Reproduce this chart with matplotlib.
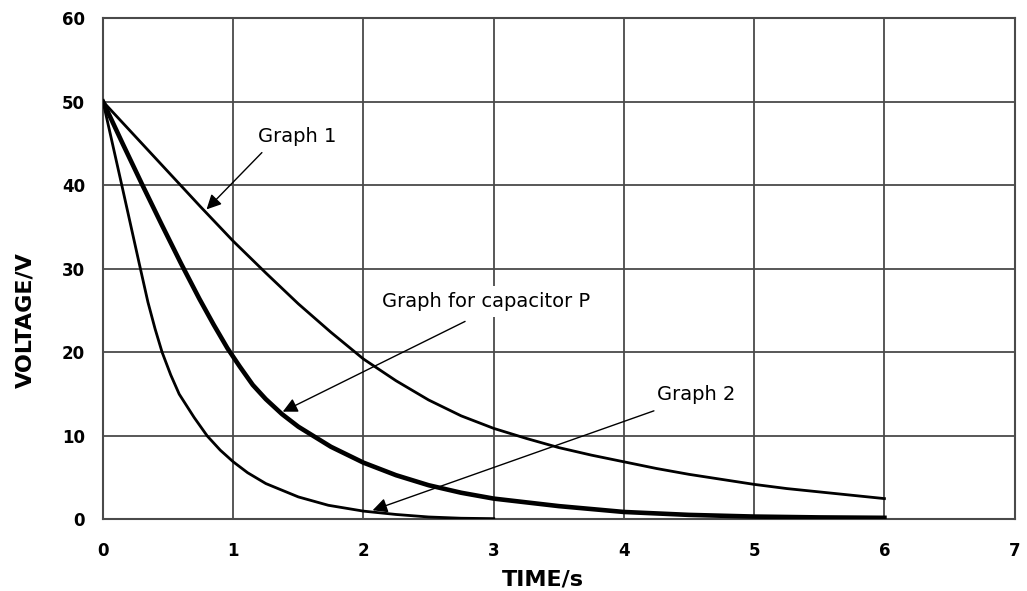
import matplotlib
matplotlib.use("Agg")
from matplotlib import pyplot as plt

# values
t_graph1 = [0, 0.25, 0.5, 0.75, 1.0, 1.25, 1.5, 1.75, 2.0, 2.25, 2.5, 2.75, 3.0,
            3.25, 3.5, 3.75, 4.0, 4.25, 4.5, 4.75, 5.0, 5.25, 5.5, 5.75, 6.0]
v_graph1 = [50, 45.8, 41.6, 37.4, 33.3, 29.5, 25.8, 22.4, 19.2, 16.6, 14.3, 12.4, 10.9,
            9.7, 8.6, 7.7, 6.9, 6.1, 5.4, 4.8, 4.2, 3.7, 3.3, 2.9, 2.5]

t_cap_p = [0, 0.15, 0.3, 0.45, 0.6, 0.74, 0.85, 0.955, 1.05, 1.15, 1.25, 1.375, 1.5,
           1.75, 2.0, 2.25, 2.5, 2.75, 3.0, 3.5, 4.0, 4.5, 5.0, 5.5, 6.0]
v_cap_p = [50, 45, 40.1, 35.3, 30.6, 26.4, 23.3, 20.5, 18.3, 16.1, 14.4, 12.6, 11.1,
           8.7, 6.8, 5.3, 4.1, 3.2, 2.5, 1.6, 0.9, 0.55, 0.35, 0.25, 0.2]

t_graph2 = [0, 0.15, 0.28, 0.345, 0.4, 0.454, 0.52, 0.585, 0.7, 0.8, 0.9, 1.0, 1.11,
            1.25, 1.5, 1.73, 2.0, 2.25, 2.5, 2.75, 3.0]
v_graph2 = [50, 39.6, 30.5, 26.0, 22.8, 20, 17.3, 15, 12.2, 10, 8.3, 6.9, 5.6,
            4.3, 2.7, 1.7, 1.0, 0.6, 0.3, 0.15, 0.1]

x_ticks = [0, 1, 2, 3, 4, 5, 6, 7]
y_ticks = [0, 10, 20, 30, 40, 50, 60]

grid_col = "#4a4a4a"

fig = plt.figure(figsize=(10.27, 5.91), dpi=100)
ax = fig.add_axes([0.1003, 0.121, 0.8877, 0.8485])

ax.plot(t_graph1, v_graph1, color="black", lw=2.0, solid_joinstyle="round", zorder=3)
ax.plot(t_cap_p, v_cap_p, color="black", lw=3.3, solid_joinstyle="round", zorder=3)
ax.plot(t_graph2, v_graph2, color="black", lw=2.0, solid_joinstyle="round", zorder=3)

ax.set_xlim(0, 7)
ax.set_ylim(0, 60)
ax.set_xticks(x_ticks)
ax.set_yticks(y_ticks)
ax.grid(True, color=grid_col, lw=1.3)
ax.set_axisbelow(True)
for s in ax.spines.values():
    s.set_color(grid_col)
    s.set_linewidth(1.5)
ax.tick_params(length=0, labelsize=12)
ax.tick_params(axis="x", pad=16)
ax.tick_params(axis="y", pad=13)
for lab in ax.get_xticklabels() + ax.get_yticklabels():
    lab.set_fontweight("bold")

ax.set_xlabel("TIME/s", fontsize=16, fontweight="bold")
ax.set_ylabel("VOLTAGE/V", fontsize=16, fontweight="bold")
ax.xaxis.set_label_coords(0.482, -0.1206)
ax.yaxis.set_label_coords(-0.0855, 0.398)
ax.xaxis.label.set_va("center")
ax.yaxis.label.set_va("center")

arrow = dict(arrowstyle="-|>", color="black", lw=1.0, mutation_scale=22,
             shrinkA=0, shrinkB=0)

# arrows
ax.annotate("", xy=(0.795, 37.1), xytext=(1.22, 43.9), arrowprops=arrow, zorder=5)
ax.annotate("", xy=(1.38, 12.9), xytext=(2.78, 23.7), arrowprops=arrow, zorder=5)
ax.annotate("", xy=(2.07, 1.1), xytext=(4.23, 13.0), arrowprops=arrow, zorder=5)

# labels
ax.text(1.19, 45.8, "Graph 1", fontsize=14, ha="left", va="center", zorder=6)
ax.text(2.145, 26.1, "Graph for capacitor P", fontsize=14, ha="left", va="center", zorder=6,
        bbox=dict(boxstyle="square,pad=0.3", fc="white", ec="none"))
ax.text(4.25, 14.9, "Graph 2", fontsize=14, ha="left", va="center", zorder=6)

fig.savefig("out.png", dpi=100)
